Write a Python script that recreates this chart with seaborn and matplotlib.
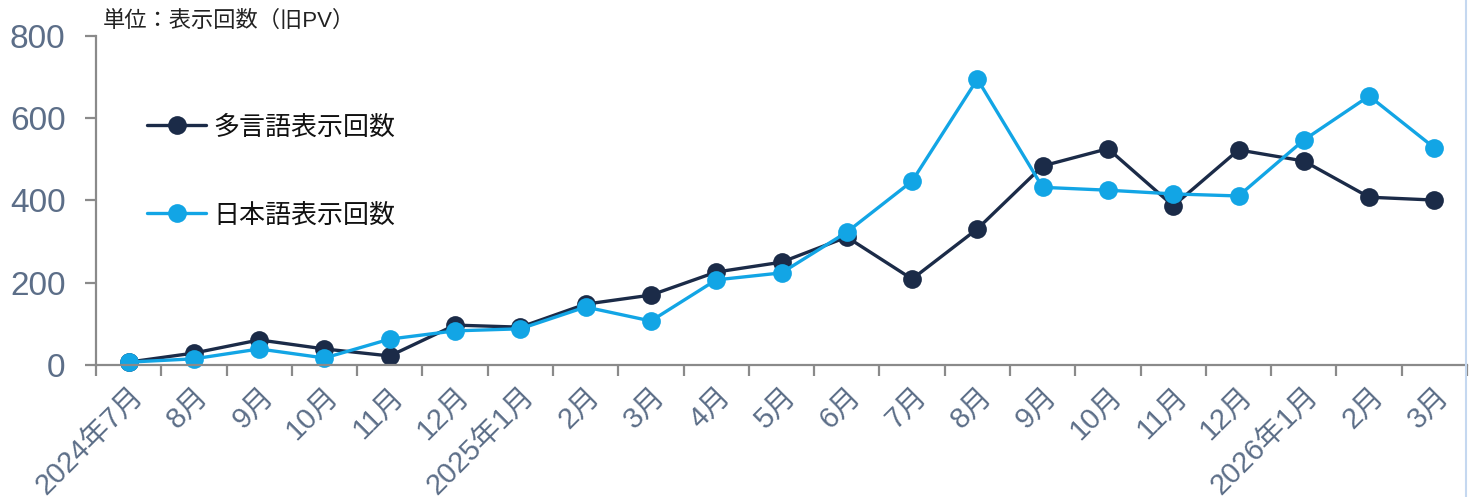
import pandas as pd
import matplotlib.pyplot as plt
import seaborn as sns
from matplotlib.lines import Line2D

# data
months = ['2024年7月', '8月', '9月', '10月', '11月', '12月', '2025年1月',
          '2月', '3月', '4月', '5月', '6月', '7月', '8月', '9月', '10月',
          '11月', '12月', '2026年1月', '2月', '3月']
multi_views = [7, 29, 61, 39, 22, 97, 92, 148, 170, 226, 250, 311, 209,
               331, 484, 526, 387, 523, 496, 408, 401]
japanese_views = [7, 15, 39, 17, 63, 83, 88, 141, 107, 207, 224, 323, 447,
                  695, 432, 425, 416, 411, 547, 654, 528]
series_names = ['多言語表示回数', '日本語表示回数']
y_ticks = [0, 200, 400, 600, 800]

sns.set_style('white')
plt.rcParams['font.family'] = ['Liberation Sans', 'Noto Sans CJK JP', 'DejaVu Sans']

df = pd.DataFrame({
    'pos': list(range(len(months))) * 2,
    'views': multi_views + japanese_views,
    'series': [series_names[0]] * len(months) + [series_names[1]] * len(months),
})

fig = plt.figure(figsize=(14.74, 4.97), dpi=100)
ax = fig.add_axes([0.0651, 0.2656, 0.9302, 0.662])

palette = {series_names[0]: '#1b2b48', series_names[1]: '#12a5e5'}
sns.lineplot(data=df, x='pos', y='views', hue='series', palette=palette,
             marker='o', markersize=13.5, markeredgewidth=0, linewidth=2.4,
             ax=ax, clip_on=False)

ax.set_xlim(-0.5, len(months) - 0.5)
ax.set_ylim(0, 800)
ax.set_yticks(y_ticks)
ax.set_xticks(range(len(months)))
ax.set_xticklabels(months, rotation=45, ha='right', rotation_mode='anchor')
ax.set_xticks([i - 0.5 for i in range(len(months) + 1)], minor=True)
ax.set_xlabel('')
ax.set_ylabel('')

spine_color = '#8a8a8a'
for side in ['top', 'right']:
    ax.spines[side].set_visible(False)
for side in ['left', 'bottom']:
    ax.spines[side].set_color(spine_color)
    ax.spines[side].set_linewidth(1.6)

ax.tick_params(axis='x', which='major', length=0, pad=12, labelsize=21,
               labelcolor='#5c6e88')
ax.tick_params(axis='x', which='minor', length=8, width=1.6, color=spine_color,
               direction='out', bottom=True)
ax.tick_params(axis='y', length=8, width=1.6, color=spine_color, pad=14,
               labelsize=24, labelcolor='#5c6e88', left=True)

ax.legend(loc='upper left', bbox_to_anchor=(0.02, 0.83), frameon=False,
          fontsize=18.7, labelspacing=2.45, handlelength=2.3, handletextpad=0.25,
          labelcolor='#111111')

fig.text(0.07, 0.935, '単位：表示回数（旧PV）', fontsize=16, color='#222222',
         ha='left', va='bottom')

# thin border on the right edge
fig.add_artist(Line2D([0.9946, 0.9946], [0, 1], transform=fig.transFigure,
                      color='#c5d8f0', linewidth=1.5))

fig.savefig('out.png', dpi=100)
plt.close(fig)
